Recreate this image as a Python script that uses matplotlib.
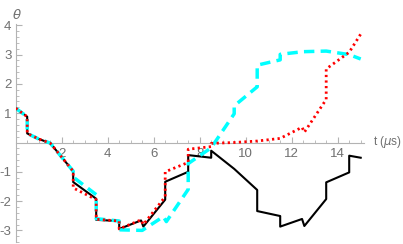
import matplotlib.pyplot as plt
from matplotlib.ticker import MultipleLocator, FixedLocator

# time (microseconds) and angle for each trace
black_t = [0, 0.5, 0.5, 1.0, 1.5, 2.5, 2.5, 3.5, 3.5, 4.5, 4.5, 5.45, 5.55, 6.5, 6.5, 7.5, 7.5,
           8.5, 8.5, 9.5, 10.5, 10.5, 11.5, 11.5, 12.45, 12.55, 13.5, 13.5, 14.5, 14.5, 15.0]
black_y = [1.17, 0.88, 0.31, 0.12, -0.02, -0.98, -1.35, -1.92, -2.64, -2.68, -2.95, -2.66, -2.87,
           -1.95, -1.34, -1.0, -0.43, -0.52, -0.28, -0.9, -1.62, -2.34, -2.51, -2.87, -2.61, -2.85,
           -1.93, -1.36, -1.02, -0.45, -0.52]

red_t = [0, 0.5, 0.5, 1.0, 1.5, 2.5, 2.5, 3.5, 3.5, 4.5, 4.5, 5.45, 5.55, 6.5, 6.5, 7.5, 7.5,
         8.5, 8.5, 9.5, 10.5, 11.5, 12.45, 12.55, 13.5, 13.5, 14.5, 15.0]
red_y = [1.17, 0.88, 0.31, 0.12, -0.02, -0.98, -1.55, -1.95, -2.62, -2.68, -2.95, -2.64, -2.8,
         -1.85, -1.0, -0.68, -0.23, -0.14, -0.03, 0.0, 0.05, 0.14, 0.52, 0.35, 1.47, 2.51, 3.08, 3.7]

cyan_t = [0, 0.5, 0.5, 1.0, 1.5, 2.5, 2.5, 3.5, 3.5, 4.5, 4.5, 5.5, 6.42, 6.55, 7.5, 7.5, 8.5,
          9.5, 9.5, 10.5, 10.5, 11.5, 11.5, 12.5, 13.5, 14.5, 15.0]
cyan_y = [1.17, 0.88, 0.31, 0.12, -0.02, -0.98, -1.18, -1.78, -2.6, -2.68, -2.98, -3.0, -2.53,
          -2.7, -1.6, -0.72, -0.18, 0.98, 1.25, 1.9, 2.64, 2.82, 3.01, 3.1, 3.12, 3.0, 2.85]

x_ticks = [2, 4, 6, 8, 10, 12, 14]
y_ticks = [-3, -2, -1, 1, 2, 3, 4]

plt.rcParams['font.family'] = ['Liberation Sans', 'DejaVu Sans']
plt.rcParams['axes.unicode_minus'] = False

W, H = 403, 244
fig = plt.figure(figsize=(W / 100, H / 100), dpi=100)
# place axes so x=0 sits at px 15.7 (23 px/unit) and y=0 at px 142.5 (29.3 px/unit)
xmin, xmax = 0, 15.15
ymin, ymax = -3.4, 4.05
left = 15.7 / W
width = (xmax - xmin) * 23 / W
top_px = 142.5 - ymax * 29.3
bot_px = 142.5 - ymin * 29.3
ax = fig.add_axes([left, (H - bot_px) / H, width, (bot_px - top_px) / H])

ax.plot(black_t, black_y, color='black', lw=1.5, zorder=3)
ax.plot(cyan_t, cyan_y, color='#00ffff', lw=2.5, ls=(0, (3, 1.8)), zorder=4)
ax.plot(red_t, red_y, color='#ff0000', lw=2, ls=(0, (0.8, 1.2)), zorder=5)

ax.set_xlim(xmin, xmax)
ax.set_ylim(ymin, ymax)

axis_gray = '#b3b3b3'
text_gray = '#707070'
ax.spines['top'].set_visible(False)
ax.spines['right'].set_visible(False)
ax.spines['bottom'].set_position(('data', 0))
ax.spines['left'].set_position(('data', 0))
for s in ('bottom', 'left'):
    ax.spines[s].set_color(axis_gray)
    ax.spines[s].set_linewidth(0.8)

ax.xaxis.set_major_locator(FixedLocator(x_ticks))
ax.xaxis.set_minor_locator(MultipleLocator(0.5))
ax.yaxis.set_major_locator(FixedLocator(y_ticks))
ax.yaxis.set_minor_locator(MultipleLocator(0.2))

ax.tick_params(axis='x', which='both', direction='in', color=axis_gray, labelcolor=text_gray,
               labelsize=9.5, pad=4)
ax.tick_params(axis='y', which='both', direction='in', color=axis_gray, labelcolor=text_gray,
               labelsize=9.5, pad=3)
ax.tick_params(which='major', length=4, width=0.8)
ax.tick_params(which='minor', length=2.2, width=0.6)

ax.text(15.55, 0, r't ($\mu$s)', color=text_gray, fontsize=8.5, ha='left', va='center',
        clip_on=False)
ax.text(0.05, 4.35, r'$\theta$', color=text_gray, fontsize=9.5, ha='center', va='center',
        clip_on=False)

fig.savefig('out.png', dpi=100)
